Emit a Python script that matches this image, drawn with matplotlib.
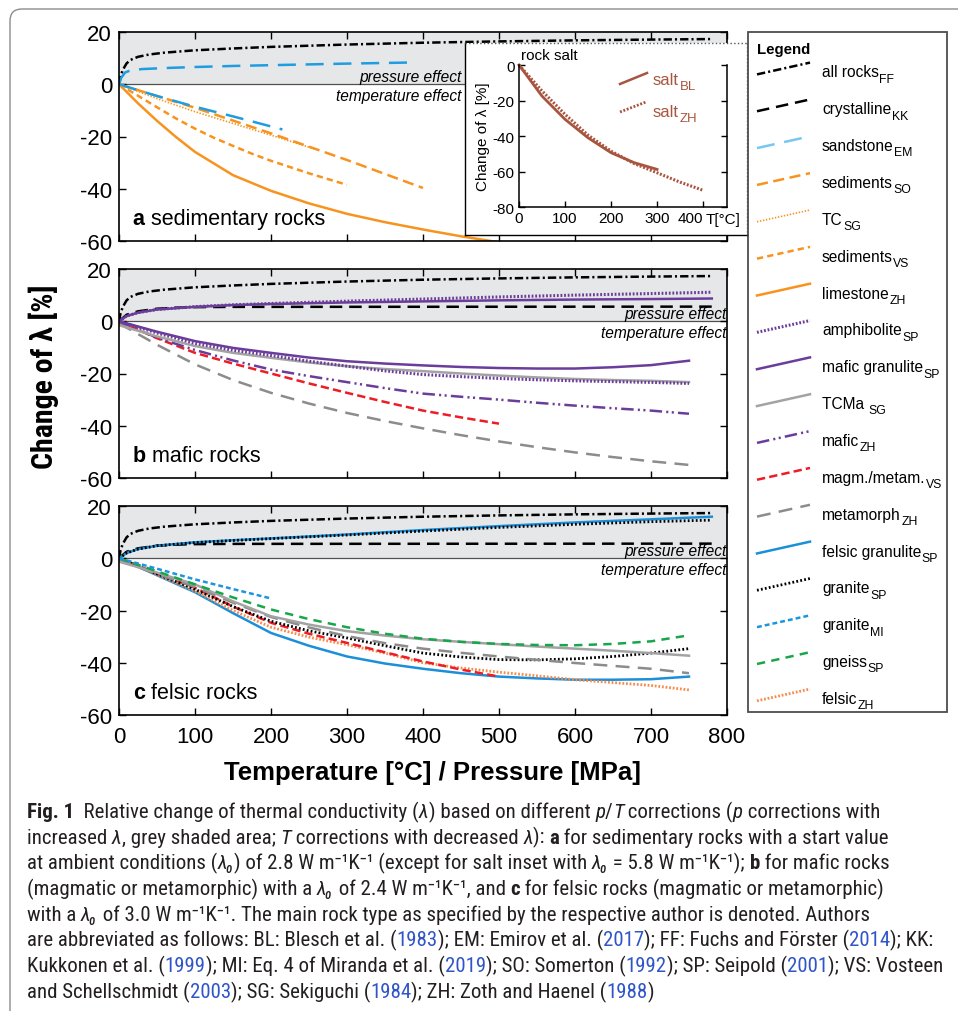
import matplotlib.pyplot as plt
from matplotlib.font_manager import FontProperties
from matplotlib.lines import Line2D
from matplotlib.patches import FancyBboxPatch, Rectangle
from matplotlib.transforms import Affine2D

plt.rcParams['font.family'] = ['Liberation Sans', 'DejaVu Sans']
plt.rcParams['mathtext.fontset'] = 'custom'
plt.rcParams['mathtext.rm'] = 'Liberation Sans'
plt.rcParams['mathtext.it'] = 'Liberation Sans:italic'
plt.rcParams['mathtext.bf'] = 'Liberation Sans:bold'
plt.rcParams['axes.unicode_minus'] = False
plt.rcParams['lines.scale_dashes'] = False
plt.rcParams['lines.dash_capstyle'] = 'butt'

CONDENSED = ['Roboto Condensed', 'DejaVu Sans Condensed', 'Roboto', 'Liberation Sans', 'DejaVu Sans']

# ---------------- data: change of thermal conductivity [%] ----------------
# pressure corrections (grey area)
ff_x = [0, 2, 5, 10, 15, 25, 40, 60, 100, 150, 200, 300, 400, 500, 600, 700, 780]
ff = [0, 3, 5.5, 8, 9.3, 10.5, 11.4, 12.1, 13.0, 13.7, 14.3, 15.2, 15.9, 16.4, 16.8, 17.1, 17.3]
kk_x = [0, 10, 25, 50, 75, 100, 150, 780]
kk = [0, 2.5, 3.8, 4.8, 5.2, 5.4, 5.5, 5.6]
em_p_x = [0, 3, 8, 15, 30, 60, 100, 150, 200, 250, 300, 380]
em_p = [0, 2.5, 4.5, 5.3, 5.8, 6.2, 6.6, 7.0, 7.3, 7.6, 7.9, 8.3]
p_x = [0, 10, 25, 50, 100, 150, 200, 300, 400, 500, 600, 700, 780]
mgran_p = [0, 2.0, 3.3, 4.5, 5.5, 6.2, 6.6, 7.2, 7.6, 8.0, 8.3, 8.5, 8.7]
amph_p = [0, 2.0, 3.3, 4.5, 5.6, 6.3, 6.8, 7.7, 8.5, 9.3, 10.0, 10.6, 11.1]
fgran_p = [0, 2.0, 3.5, 4.8, 6.1, 6.9, 7.6, 9.1, 10.8, 12.3, 13.7, 14.9, 15.9]
gran_p = [0, 2.0, 3.5, 4.8, 6.0, 6.8, 7.5, 8.9, 10.4, 11.8, 13.0, 14.0, 14.6]

# a: sedimentary rocks, temperature corrections
em_t_x = [0, 50, 100, 150, 215]
em_t = [0, -4.5, -8.6, -12.3, -17.3]
so_x = [0, 100, 200, 300, 400]
so = [0, -9.0, -18.8, -29.0, -39.7]
tc_sg_x = [0, 50, 100, 150, 200, 260]
tc_sg = [0, -5.5, -10.5, -15.0, -19.5, -25.0]
vs_sed_x = [0, 25, 50, 75, 100, 125, 150, 175, 200, 250, 300]
vs_sed = [0, -4.4, -8.8, -13.1, -17.0, -20.5, -23.6, -26.6, -29.3, -34.1, -38.5]
lime_x = [0, 25, 50, 75, 100, 150, 200, 250, 300, 350, 400, 450, 500]
lime = [0, -7.3, -14.0, -20.2, -25.9, -34.8, -40.8, -45.6, -49.6, -52.8, -55.6, -58.2, -60.5]

# rock salt inset
salt_bl_x = [0, 50, 100, 150, 200, 250, 300]
salt_bl = [0, -17.5, -30.6, -41.0, -49.4, -55.0, -58.8]
salt_zh_x = [0, 50, 100, 150, 200, 250, 300, 350, 400]
salt_zh = [0, -14.6, -27.8, -39.5, -48.5, -55.5, -60.7, -66.0, -70.6]

# b, c: temperature corrections on a common grid
t_x = [0, 50, 100, 150, 200, 250, 300, 350, 400, 450, 500, 550, 600, 650, 700, 750]
t_x500 = t_x[:11]
t_x200 = t_x[:5]
mgran_t = [0, -4.0, -7.6, -10.2, -12.1, -13.9, -15.3, -16.2, -16.9, -17.5, -17.9, -18.1, -18.1, -17.6, -16.8, -15.1]
amph_t = [0, -4.5, -8.5, -11.1, -13.1, -15.3, -17.2, -19.0, -20.4, -21.2, -21.9, -22.4, -22.8, -23.1, -23.4, -23.8]
tcma_b = [-1.5, -5.8, -9.5, -12.1, -14.0, -15.8, -17.2, -18.3, -19.1, -20.0, -20.8, -21.5, -22.1, -22.5, -22.8, -23.3]
mafic_t = [0, -6.3, -11.0, -15.0, -18.5, -21.0, -23.3, -25.6, -27.7, -28.9, -30.0, -31.2, -32.3, -33.3, -34.2, -35.4]
mm_b = [0, -6.5, -12.1, -16.2, -20.0, -23.8, -27.4, -30.9, -34.2, -36.8, -39.2]
meta_b = [-0.8, -9.0, -16.5, -22.5, -27.4, -31.5, -35.1, -38.2, -41.0, -43.6, -46.0, -48.2, -50.2, -52.0, -53.6, -55.0]

fgran_t = [0, -6.5, -13.0, -21.0, -28.6, -33.5, -37.6, -40.3, -42.3, -44.0, -45.3, -46.0, -46.5, -46.5, -46.3, -45.3]
gran_sp_t = [0, -6.0, -11.9, -18.5, -24.1, -27.8, -30.5, -33.5, -36.3, -37.8, -38.8, -38.9, -38.5, -37.6, -36.3, -34.6]
gran_mi_t = [0, -4.0, -8.1, -11.8, -15.4]
gneiss_t = [0, -5.0, -10.0, -15.0, -19.6, -23.3, -26.4, -28.9, -30.8, -32.0, -32.8, -33.2, -33.3, -32.8, -31.8, -29.5]
felsic_t = [0, -6.3, -12.6, -20.0, -26.4, -30.2, -33.1, -36.3, -40.0, -42.0, -43.6, -45.0, -46.5, -47.6, -48.7, -50.4]
mm_c = [0, -5.8, -11.3, -18.5, -24.7, -28.9, -32.4, -36.0, -39.5, -42.6, -45.3]
tcma_c = [-1.3, -5.5, -10.0, -16.5, -22.2, -25.4, -27.9, -29.6, -31.0, -32.0, -32.9, -33.8, -34.6, -35.4, -36.3, -37.3]
meta_c = [-0.8, -6.0, -11.0, -17.0, -22.5, -26.5, -29.8, -32.5, -34.6, -36.2, -37.6, -38.9, -40.1, -41.2, -42.3, -44.0]

# legend entries: (style key, name, author subscript)
legend_items = [('ff', 'all rocks', 'FF'), ('kk', 'crystalline', 'KK'), ('em', 'sandstone', 'EM'),
                ('so', 'sediments', 'SO'), ('tc_sg', 'TC', 'SG'), ('vs_sed', 'sediments', 'VS'),
                ('lime', 'limestone', 'ZH'), ('amph', 'amphibolite', 'SP'), ('mgran', 'mafic granulite', 'SP'),
                ('tcma', 'TCMa ', 'SG'), ('mafic', 'mafic', 'ZH'), ('mm', 'magm./metam.', 'VS'),
                ('meta', 'metamorph', 'ZH'), ('fgran', 'felsic granulite', 'SP'), ('gran_sp', 'granite', 'SP'),
                ('gran_mi', 'granite', 'MI'), ('gneiss', 'gneiss', 'SP'), ('felsic', 'felsic', 'ZH')]

ORANGE = '#f7931e'
PURPLE = '#6b3d9a'
SALT = '#a8553f'
STYLE = {
    'ff': dict(color='k', dashes=(6, 2.2, 1.5, 2.2), lw=1.8),
    'kk': dict(color='k', dashes=(9, 5), lw=1.8),
    'em': dict(color='#1f9de0', dashes=(13, 7), lw=1.8),
    'so': dict(color=ORANGE, dashes=(8, 4), lw=1.8),
    'tc_sg': dict(color=ORANGE, dashes=(1, 1.2), lw=1.2),
    'vs_sed': dict(color=ORANGE, dashes=(4.5, 3), lw=1.8),
    'lime': dict(color=ORANGE, lw=1.8),
    'amph': dict(color=PURPLE, dashes=(1.3, 1.3), lw=2.2),
    'mgran': dict(color=PURPLE, lw=1.8),
    'tcma': dict(color='#a3a3a3', lw=1.8),
    'mafic': dict(color=PURPLE, dashes=(9, 3, 1.5, 2.5, 1.5, 3), lw=1.8),
    'mm': dict(color='#ee1c25', dashes=(6, 3), lw=1.8),
    'meta': dict(color='#8c8c8c', dashes=(10, 6), lw=1.8),
    'fgran': dict(color='#1b8fd9', lw=1.8),
    'gran_sp': dict(color='k', dashes=(1.3, 1.6), lw=2.0),
    'gran_mi': dict(color='#1b95e0', dashes=(3.5, 2.2), lw=1.8),
    'gneiss': dict(color='#19a64a', dashes=(6, 4.5), lw=1.8),
    'felsic': dict(color='#f68b4b', dashes=(1.3, 1.3), lw=2.0),
}
LEGEND_COLOR = {'em': '#76c8ee'}

W, H = 958, 1012
fig = plt.figure(figsize=(W / 100, H / 100), dpi=100)
PX = Affine2D().scale(1, -1).translate(0, H)   # pixel coords, origin top-left


def axes_px(l, t, r, b, **kw):
    return fig.add_axes([l / W, 1 - b / H, (r - l) / W, (b - t) / H], **kw)


def draw(ax, key, x, y, **kw):
    st = STYLE[key]
    extra = {'dashes': st['dashes']} if 'dashes' in st else {}
    ax.plot(x, y, color=st['color'], lw=st['lw'], **extra, **kw)


def setup(ax, letter, name, effect_x, last=False):
    ax.set_xlim(0, 800)
    ax.set_ylim(-60, 20)
    ax.axhspan(0, 20, color='#e6e7e8', lw=0, zorder=0)
    ax.axhline(0, color='#505050', lw=0.9, zorder=0.5)
    ax.set_yticks([-60, -40, -20, 0, 20])
    ax.set_xticks(range(0, 801, 100))
    ax.tick_params(direction='in', top=True, right=True, length=5, width=1, labelsize=16, pad=5)
    ax.tick_params(axis='x', pad=8)
    if not last:
        ax.set_xticklabels([])
    for s in ax.spines.values():
        s.set_linewidth(1.2)
    ax.text(effect_x, 3.0, 'pressure effect', style='italic', fontsize=11.2, ha='right', va='center')
    ax.text(effect_x, -4.3, 'temperature effect', style='italic', fontsize=11.2, ha='right', va='center')
    t = ax.text(18, -55.5, letter, weight='bold', fontsize=15.5, va='bottom')
    ax.annotate(' ' + name, xy=(1, 0), xycoords=t, fontsize=15.5, va='bottom')


ax_a = axes_px(119, 33, 727, 242)
ax_b = axes_px(119, 270, 727, 479)
ax_c = axes_px(119, 507, 727, 716)

setup(ax_a, 'a', 'sedimentary rocks', 451)
setup(ax_b, 'b', 'mafic rocks', 799)
setup(ax_c, 'c', 'felsic rocks', 799, last=True)

# a: sedimentary rocks
draw(ax_a, 'ff', ff_x, ff)
draw(ax_a, 'em', em_p_x, em_p)
draw(ax_a, 'lime', lime_x, lime)
draw(ax_a, 'vs_sed', vs_sed_x, vs_sed)
draw(ax_a, 'so', so_x, so)
draw(ax_a, 'tc_sg', tc_sg_x, tc_sg)
draw(ax_a, 'em', em_t_x, em_t)

# b: mafic rocks
draw(ax_b, 'ff', ff_x, ff)
draw(ax_b, 'kk', kk_x, kk)
draw(ax_b, 'amph', p_x, amph_p)
draw(ax_b, 'mgran', p_x, mgran_p)
draw(ax_b, 'meta', t_x, meta_b)
draw(ax_b, 'mm', t_x500, mm_b)
draw(ax_b, 'mafic', t_x, mafic_t)
draw(ax_b, 'tcma', t_x, tcma_b)
draw(ax_b, 'amph', t_x, amph_t)
draw(ax_b, 'mgran', t_x, mgran_t)

# c: felsic rocks
draw(ax_c, 'ff', ff_x, ff)
draw(ax_c, 'kk', kk_x, kk)
draw(ax_c, 'fgran', p_x, fgran_p)
draw(ax_c, 'gran_sp', p_x, gran_p)
draw(ax_c, 'fgran', t_x, fgran_t)
draw(ax_c, 'felsic', t_x, felsic_t)
draw(ax_c, 'mm', t_x500, mm_c)
draw(ax_c, 'gran_sp', t_x, gran_sp_t)
draw(ax_c, 'meta', t_x, meta_c)
draw(ax_c, 'tcma', t_x, tcma_c)
draw(ax_c, 'gneiss', t_x, gneiss_t)
draw(ax_c, 'gran_mi', t_x200, gran_mi_t)

# rock salt inset: white box, solid left/bottom edge, dotted top/right edge
fig.add_artist(Rectangle((465, 44), 282, 192, transform=PX, fc='white', ec='none', zorder=2))
for xs, ys, ls in [((465, 465), (44, 236), '-'), ((465, 747), (236, 236), '-'),
                   ((465, 747), (44, 44), ':'), ((747, 747), (44, 236), ':')]:
    fig.add_artist(Line2D(xs, ys, transform=PX, color='#555555' if ls == ':' else 'k',
                          lw=1.0, ls=ls, zorder=2.1))

ax_in = axes_px(519, 66, 727, 208, zorder=3)
ax_in.set_xlim(0, 452)
ax_in.set_ylim(-80, 0)
ax_in.spines['top'].set_visible(False)
for s in ['left', 'bottom', 'right']:
    ax_in.spines[s].set_linewidth(1.1)
ax_in.set_yticks([-80, -60, -40, -20, 0])
ax_in.set_xticks([0, 100, 200, 300, 400])
ax_in.tick_params(direction='in', right=True, length=4, width=1, labelsize=11, pad=3)
ax_in.get_xticklabels()[-1].set_ha('right')
ax_in.set_ylabel('Change of λ [%]', fontsize=11, labelpad=2)
ax_in.plot(salt_bl_x, salt_bl, color=SALT, lw=2.0, clip_on=False)
ax_in.plot(salt_zh_x, salt_zh, color=SALT, lw=2.2, dashes=(1.4, 1.2), clip_on=False)
fig.text(706, 220, 'T[°C]', transform=PX, fontsize=11, va='center', zorder=4)
fig.text(521, 56, 'rock salt', transform=PX, fontsize=11, va='center', zorder=4)
fig.add_artist(Line2D((620, 647), (85, 74), transform=PX, color=SALT, lw=1.8, zorder=4))
fig.add_artist(Line2D((620, 646), (113, 103), transform=PX, color=SALT, lw=2.0,
                      dashes=(1.4, 1.2), zorder=4))
for yb, sub in [(85, 'BL'), (117, 'ZH')]:
    t = fig.text(653, yb, 'salt', transform=PX, fontsize=12, color=SALT, zorder=4)
    fig.add_artist(plt.Annotation(sub, xy=(1, 0), xycoords=t, xytext=(0.5, -3.5),
                                  textcoords='offset points', fontsize=9.5, color=SALT,
                                  va='bottom', zorder=4))

# legend box
fig.add_artist(Rectangle((748, 33), 199, 680, transform=PX, fc='white', ec='#4d4d4d', lw=1.3, zorder=2))
fig.text(757, 50, 'Legend', transform=PX, weight='bold', fontsize=10.8, va='center', zorder=3)
for i, (key, name, sub) in enumerate(legend_items):
    yc = 72 + 36.85 * i
    st = STYLE[key]
    extra = {'dashes': st['dashes']} if 'dashes' in st else {}
    fig.add_artist(Line2D((757, 810), (yc + 3.4, yc - 8.4), transform=PX,
                          color=LEGEND_COLOR.get(key, st['color']), lw=st['lw'], zorder=3, **extra))
    t = fig.text(822, yc + 5.5, name, transform=PX, fontsize=11.2, va='baseline', zorder=3)
    fig.add_artist(plt.Annotation(sub, xy=(1, 0), xycoords=t, xytext=(0.3, -3.8),
                                  textcoords='offset points', fontsize=8.8, va='bottom', zorder=3))

# axis titles
fig.text(433, 773, 'Temperature [°C] / Pressure [MPa]', transform=PX, weight='bold',
         fontsize=18.5, ha='center', va='center')
fig.text(44, 377, 'Change of λ [%]', transform=PX, weight='bold', fontsize=21.5, family=CONDENSED,
         rotation=90, ha='center', va='center')

# rounded frame around figure and caption
fig.add_artist(FancyBboxPatch((10, 10), 1000, 1060, boxstyle='round,pad=0,rounding_size=12',
                              transform=PX, fill=False, ec='#8c8c8c', lw=1.0))

# caption, laid out segment by segment
caption = [
    [('Fig. 1', 'b'), ('  Relative change of thermal conductivity (', 'n'), ('λ', 'i'),
     (') based on different ', 'n'), ('p', 'i'), ('/', 'n'), ('T', 'i'), (' corrections (', 'n'),
     ('p', 'i'), (' corrections with', 'n')],
    [('increased ', 'n'), ('λ', 'i'), (', grey shaded area; ', 'n'), ('T', 'i'),
     (' corrections with decreased ', 'n'), ('λ', 'i'), ('): ', 'n'), ('a', 'b'),
     (' for sedimentary rocks with a start value', 'n')],
    [('at ambient conditions (', 'n'), ('λ₀', 'i'), (') of 2.8 W m⁻¹K⁻¹ (except for salt inset with ', 'n'),
     ('λ₀', 'i'), (' = 5.8 W m⁻¹K⁻¹); ', 'n'), ('b', 'b'), (' for mafic rocks', 'n')],
    [('(magmatic or metamorphic) with a ', 'n'), ('λ₀', 'i'), (' of 2.4 W m⁻¹K⁻¹, and ', 'n'),
     ('c', 'b'), (' for felsic rocks (magmatic or metamorphic)', 'n')],
    [('with a ', 'n'), ('λ₀', 'i'),
     (' of 3.0 W m⁻¹K⁻¹. The main rock type as specified by the respective author is denoted. Authors', 'n')],
    [('are abbreviated as follows: BL: Blesch et al. (', 'n'), ('1983', 'l'), ('); EM: Emirov et al. (', 'n'),
     ('2017', 'l'), ('); FF: Fuchs and Förster (', 'n'), ('2014', 'l'), ('); KK:', 'n')],
    [('Kukkonen et al. (', 'n'), ('1999', 'l'), ('); MI: Eq. 4 of Miranda et al. (', 'n'), ('2019', 'l'),
     ('); SO: Somerton (', 'n'), ('1992', 'l'), ('); SP: Seipold (', 'n'), ('2001', 'l'),
     ('); VS: Vosteen', 'n')],
    [('and Schellschmidt (', 'n'), ('2003', 'l'), ('); SG: Sekiguchi (', 'n'), ('1984', 'l'),
     ('); ZH: Zoth and Haenel (', 'n'), ('1988', 'l'), (')', 'n')],
]
line_ends = [922, 903, 948, 922, 907, 940, 948]

renderer = fig.canvas.get_renderer()


def cap_prop(kind, size):
    return FontProperties(family=CONDENSED, size=size,
                          weight='bold' if kind == 'b' else 'normal',
                          style='italic' if kind == 'i' else 'normal')


def seg_width(s, prop):
    bars = renderer.get_text_width_height_descent('||', prop, ismath=False)[0]
    return renderer.get_text_width_height_descent('|' + s + '|', prop, ismath=False)[0] - bars


x0 = 27
base = 14.0
fits = []
for parts, end in zip(caption, line_ends):
    w = sum(seg_width(s, cap_prop(k, base)) for s, k in parts)
    fits.append(base * (end - x0) / w)
cap_fs = min(fits)

for row, parts in enumerate(caption):
    x = x0
    y = 818 + 25.7 * row
    for s, k in parts:
        prop = cap_prop(k, cap_fs)
        fig.text(x, y, s, transform=PX, fontproperties=prop, va='baseline',
                 color='#2f55c8' if k == 'l' else '#231f20')
        x += seg_width(s, prop)

fig.savefig('out.png', dpi=100)
